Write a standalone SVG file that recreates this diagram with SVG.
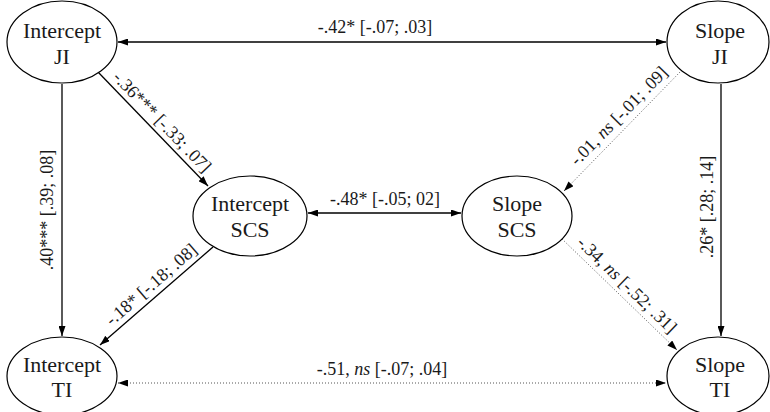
<svg xmlns="http://www.w3.org/2000/svg" width="770" height="412" viewBox="0 0 770 412" font-family="'Liberation Serif', 'Times New Roman', serif">
  <defs>
    <marker id="arrow" viewBox="0 0 10 7" markerWidth="10" markerHeight="7" refX="10" refY="3.5" markerUnits="userSpaceOnUse" orient="auto-start-reverse">
      <path d="M0,0 L10,3.5 L0,7 z" fill="#000"/>
    </marker>
    <style>
      text { font-family: 'Liberation Serif', 'Times New Roman', serif; fill: #1a1a1a; }
      .node ellipse { fill: #fff; stroke: #000; stroke-width: 1.2; }
      .node text { font-size: 22px; text-anchor: middle; }
      .edge { fill: none; stroke: #000; stroke-width: 1.3; }
      .dotted { fill: none; stroke: #555; stroke-width: 1; stroke-dasharray: 1 2; }
      .lbl { font-size: 18px; text-anchor: middle; }
      .ns { font-style: italic; }
    </style>
  </defs>
  <rect width="770" height="412" fill="#fff"/>

  <g id="connectors">
    <!-- covariances (double-headed) -->
    <line class="edge" x1="118" y1="42" x2="666" y2="42" marker-start="url(#arrow)" marker-end="url(#arrow)"/>
    <line class="edge" x1="308" y1="213" x2="461" y2="213" marker-start="url(#arrow)" marker-end="url(#arrow)"/>
    <line class="dotted" x1="118" y1="383" x2="666" y2="383" marker-start="url(#arrow)" marker-end="url(#arrow)"/>
    <!-- regression paths -->
    <line class="edge" x1="62" y1="84" x2="62" y2="336" marker-end="url(#arrow)"/>
    <line class="edge" x1="721" y1="84" x2="721" y2="336" marker-end="url(#arrow)"/>
    <line class="edge" x1="98" y1="72" x2="208" y2="186" marker-end="url(#arrow)"/>
    <line class="edge" x1="213" y1="247" x2="100" y2="345" marker-end="url(#arrow)"/>
    <line class="dotted" x1="682" y1="70" x2="564" y2="191" marker-end="url(#arrow)"/>
    <line class="dotted" x1="560" y1="237" x2="677" y2="350" marker-end="url(#arrow)"/>

    <!-- edge labels -->
    <text class="lbl" x="375" y="33">-.42* [-.07; .03]</text>
    <text class="lbl" x="385" y="205">-.48* [-.05; 02]</text>
    <text class="lbl" x="382" y="375">-.51, <tspan class="ns">ns</tspan> [-.07; .04]</text>
    <text class="lbl" transform="translate(53,210) rotate(-90)">.40*** [.39; .08]</text>
    <text class="lbl" transform="translate(713,207) rotate(-90)">.26* [.28; .14]</text>
    <text class="lbl" transform="translate(158,126) rotate(46)">-.36*** [-.33; .07]</text>
    <text class="lbl" transform="translate(155,289) rotate(-41)">-.18* [-.18; .08]</text>
    <text class="lbl" transform="translate(623,120) rotate(-45.5)">-.01, <tspan class="ns">ns</tspan> [-.01; .09]</text>
    <text class="lbl" transform="translate(623,289) rotate(44)">-.34, <tspan class="ns">ns</tspan> [-.52; .31]</text>
  </g>

  <g id="intercept-ji" class="node">
    <ellipse cx="62" cy="42" rx="55" ry="41"/>
    <text x="62" y="38">Intercept</text>
    <text x="62" y="64">JI</text>
  </g>
  <g id="slope-ji" class="node">
    <ellipse cx="718" cy="42" rx="51" ry="41"/>
    <text x="720" y="38">Slope</text>
    <text x="720" y="64">JI</text>
  </g>
  <g id="intercept-scs" class="node">
    <ellipse cx="250" cy="216" rx="57" ry="40"/>
    <text x="250" y="211">Intercept</text>
    <text x="250" y="237">SCS</text>
  </g>
  <g id="slope-scs" class="node">
    <ellipse cx="517" cy="216" rx="55" ry="40"/>
    <text x="517" y="211">Slope</text>
    <text x="517" y="237">SCS</text>
  </g>
  <g id="intercept-ti" class="node">
    <ellipse cx="62" cy="376" rx="55" ry="39"/>
    <text x="62" y="372">Intercept</text>
    <text x="62" y="397">TI</text>
  </g>
  <g id="slope-ti" class="node">
    <ellipse cx="718" cy="376" rx="51" ry="39"/>
    <text x="720" y="372">Slope</text>
    <text x="720" y="397">TI</text>
  </g>
</svg>
